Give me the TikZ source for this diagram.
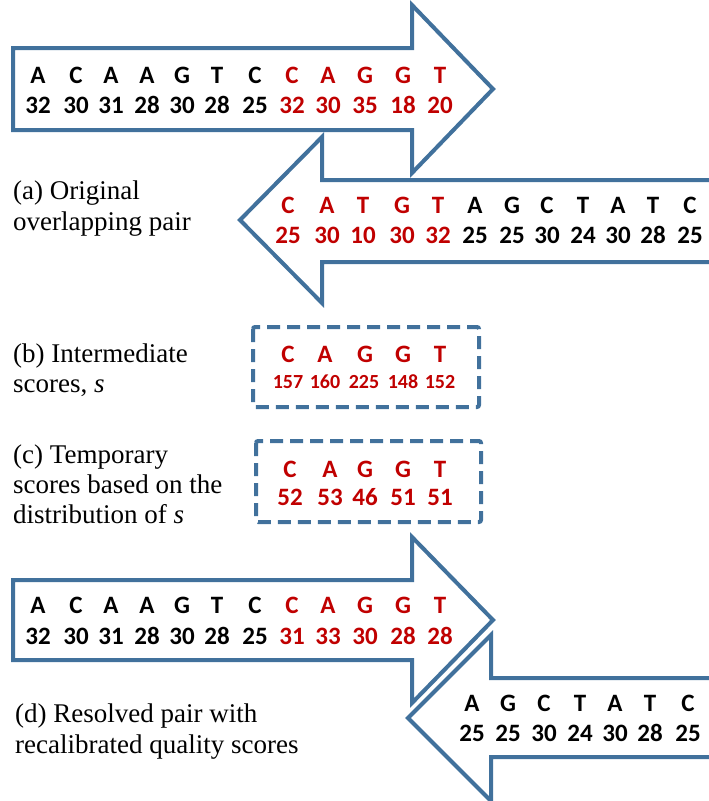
\documentclass[tikz,border=0pt]{standalone}
\usepackage{fontspec}
\setmainfont{Liberation Serif}
\newfontfamily\basefont{Carlito}
\definecolor{strandblue}{HTML}{41719C}
\definecolor{hit}{HTML}{C00000}
\tikzset{
  strandarrow/.style={draw=strandblue, line width=4pt, fill=white, line join=miter},
  tmpbox/.style={draw=strandblue, line width=4pt, dash pattern=on 13pt off 7pt, rounded corners=2pt},
  basech/.style={font=\basefont\bfseries\fontsize{25}{25}\selectfont, anchor=base, inner sep=0pt},
  smallq/.style={font=\basefont\bfseries\fontsize{20}{20}\selectfont, anchor=base, inner sep=0pt},
  caption/.style={font=\fontsize{27}{30}\selectfont, anchor=base west, inner sep=0pt},
}
\begin{document}
\begin{tikzpicture}[x=1pt, y=-1pt]
\useasboundingbox (0,0) rectangle (709,801);

% read outlines (arrows run past the right edge)
\begin{scope}
  \clip (0,0) rectangle (709,801);
  \draw[strandarrow] (13,48) -- (412,48) -- (412,5) -- (493,89) -- (412,173) -- (412,130) -- (13,130) -- cycle;
  \draw[strandarrow] (740,180) -- (322,180) -- (322,137) -- (240,220) -- (322,303) -- (322,262) -- (740,262);
  \draw[strandarrow] (13,580) -- (412,580) -- (412,537) -- (493,620) -- (412,703) -- (412,660) -- (13,660) -- cycle;
  \draw[strandarrow] (740,678) -- (491,678) -- (491,635) -- (408,718) -- (491,801) -- (491,757) -- (740,757);
\end{scope}

% dashed boxes for intermediate and temporary scores
\draw[tmpbox] (253,327) rectangle (479,407);
\draw[tmpbox] (256,441) rectangle (481,522);

% (a) forward read
\foreach \x/\t/\c [count=\i] in {38/A/black,76/C/black,111/A/black,147/A/black,182/G/black,217/T/black,255/C/black,292/C/hit,328/A/hit,365/G/hit,403/G/hit,440/T/hit}
  \node[basech, text=\c] (fa\i) at (\x,83) {\t};
\foreach \x/\t/\c [count=\i] in {38/32/black,76/30/black,111/31/black,147/28/black,182/30/black,217/28/black,255/25/black,292/32/hit,328/30/hit,365/35/hit,403/18/hit,440/20/hit}
  \node[basech, text=\c] (fq\i) at (\x,113) {\t};

% (a) reverse read
\foreach \x/\t/\c [count=\i] in {288/C/hit,327/A/hit,363/T/hit,402/G/hit,438/T/hit,475/A/black,512/G/black,547/C/black,583/T/black,618/A/black,653/T/black,690/C/black}
  \node[basech, text=\c] (ra\i) at (\x,213) {\t};
\foreach \x/\t/\c [count=\i] in {288/25/hit,327/30/hit,363/10/hit,402/30/hit,438/32/hit,475/25/black,512/25/black,547/30/black,583/24/black,618/30/black,653/28/black,690/25/black}
  \node[basech, text=\c] (rq\i) at (\x,243) {\t};

% (b) intermediate scores
\foreach \x/\t [count=\i] in {288/C,325/A,365/G,403/G,440/T}
  \node[basech, text=hit] (ba\i) at (\x,362) {\t};
\foreach \x/\t [count=\i] in {288/157,325/160,364/225,403/148,440/152}
  \node[smallq, text=hit] (bq\i) at (\x,388) {\t};

% (c) temporary scores
\foreach \x/\t [count=\i] in {290/C,330/A,365/G,403/G,440/T}
  \node[basech, text=hit] (ca\i) at (\x,477) {\t};
\foreach \x/\t [count=\i] in {290/52,330/53,365/46,403/51,440/51}
  \node[basech, text=hit] (cq\i) at (\x,505) {\t};

% (d) resolved forward read
\foreach \x/\t/\c [count=\i] in {38/A/black,76/C/black,111/A/black,147/A/black,182/G/black,217/T/black,255/C/black,292/C/hit,328/A/hit,365/G/hit,403/G/hit,440/T/hit}
  \node[basech, text=\c] (da\i) at (\x,613) {\t};
\foreach \x/\t/\c [count=\i] in {38/32/black,76/30/black,111/31/black,147/28/black,182/30/black,217/28/black,255/25/black,292/31/hit,328/33/hit,365/30/hit,403/28/hit,440/28/hit}
  \node[basech, text=\c] (dq\i) at (\x,644) {\t};

% (d) resolved reverse read
\foreach \x/\t [count=\i] in {472/A,508/G,544/C,580/T,615/A,650/T,688/C}
  \node[basech] (ea\i) at (\x,711) {\t};
\foreach \x/\t [count=\i] in {472/25,508/25,544/30,580/24,615/30,650/28,688/25}
  \node[basech] (eq\i) at (\x,741) {\t};

% captions
\node[caption] (capa1) at (13,199) {(a) Original};
\node[caption] (capa2) at (13,230) {overlapping pair};
\node[caption] (capb1) at (13,362) {(b) Intermediate};
\node[caption] (capb2) at (13,392) {scores, \textit{s}};
\node[caption] (capc1) at (13,463) {(c) Temporary};
\node[caption] (capc2) at (13,493) {scores based on the};
\node[caption] (capc3) at (13,523) {distribution of \textit{s}};
\node[caption] (capd1) at (15,722) {(d) Resolved pair with};
\node[caption] (capd2) at (15,753) {recalibrated quality scores};
\end{tikzpicture}
\end{document}
